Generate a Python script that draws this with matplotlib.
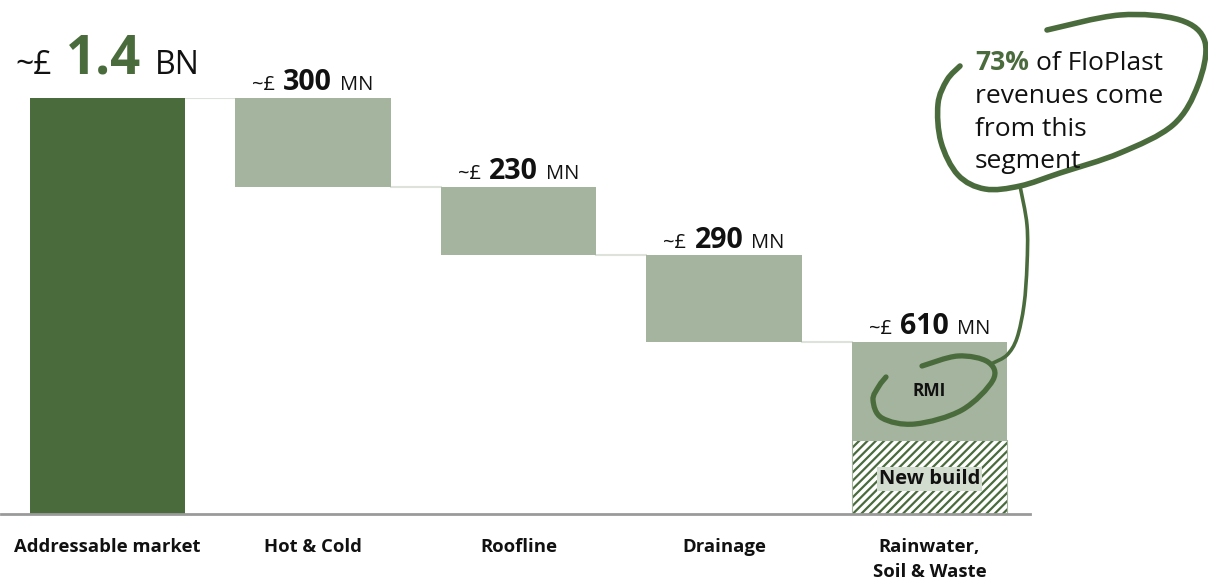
import numpy as np
import matplotlib.pyplot as plt
from matplotlib.path import Path
from matplotlib.patches import PathPatch

plt.rcParams['font.family'] = ['Open Sans', 'DejaVu Sans']
plt.rcParams['hatch.linewidth'] = 1.6

categories = ['Addressable market', 'Hot & Cold', 'Roofline', 'Drainage', 'Rainwater,\nSoil & Waste']
total = 1400          # addressable market, MN
steps = [300, 230, 290]   # segments carved off the total
new_build = 250
labels_num = ['1.4', '300', '230', '290', '610']
labels_unit = ['BN', 'MN', 'MN', 'MN', 'MN']

dark = '#4a6b3c'
light = '#a5b49f'
conn = '#dde3da'

fig = plt.figure(figsize=(12.08, 5.8), dpi=100)
ax = fig.add_axes([0, 66/580, 1030/1208, 416/580])
ax.set_xlim(-107.5/205.5, (1030-107.5)/205.5)
ax.set_ylim(0, total)
ax.axis('off')

w = 0.755
ax.bar(0, total, width=w, color=dark, zorder=2)

tops = [total]
for i, s in enumerate(steps):
    top = tops[-1]
    ax.bar(i + 1, s, bottom=top - s, width=w, color=light, zorder=2)
    tops.append(top - s)
rest = tops[-1]
rmi = rest - new_build
ax.bar(4, rmi, bottom=new_build, width=w, color=light, zorder=2)
ax.bar(4, new_build, width=w, color='white', edgecolor=dark, hatch='////', linewidth=0, zorder=2)
ax.bar(4, new_build, width=w, fill=False, edgecolor=light, linewidth=0.8, zorder=3)

# connectors between bars
for i in range(4):
    ax.plot([i + w/2, i + 1 - w/2], [tops[i], tops[i]], color=conn, lw=1.5, zorder=1)

# baseline
ax.plot([-0.52, 4.49], [0, 0], color='#9a9a9a', lw=2, clip_on=False, zorder=3)

# category labels
for i, c in enumerate(categories):
    ax.text(i, -80, c, ha='center', va='top', fontsize=13.3, fontweight='bold',
            color='#111111', linespacing=1.52)

# value labels: "~£" + bold number + unit, centred over the bar
fig.canvas.draw()
r = fig.canvas.get_renderer()
label_y = [1400 + 82, 1400 + 26, 1100 + 26, 870 + 26, rest + 26]
for i in range(5):
    if i == 0:
        s_side, s_num, col, gap = 23, 38, dark, 14
    else:
        s_side, s_num, col, gap = 14.5, 20.5, '#111111', 8
    y = label_y[i]
    kw = dict(xytext=(0, 0), textcoords='offset pixels', ha='left', va='baseline',
              annotation_clip=False)
    a = ax.annotate('~£', (i, y), fontsize=s_side, color='#111111', **kw)
    b = ax.annotate(labels_num[i], (i, y), fontsize=s_num, fontweight='bold', color=col, **kw)
    c = ax.annotate(labels_unit[i], (i, y), fontsize=s_side, color='#111111', **kw)
    wa = a.get_window_extent(r).width
    wb = b.get_window_extent(r).width
    wc = c.get_window_extent(r).width
    tw = wa + wb + wc + 2 * gap
    x0 = -tw / 2
    a.xyann = (x0, 0)
    b.xyann = (x0 + wa + gap, 0)
    c.xyann = (x0 + wa + gap + wb + gap, 0)

ax.text(4, new_build + rmi * 0.5, 'RMI', ha='center', va='center',
        fontsize=12.5, fontweight='bold', color='#111111', zorder=5)
ax.text(4, new_build * 0.47, 'New build', ha='center', va='center',
        fontsize=14.5, fontweight='bold', color='#111111', zorder=5,
        bbox=dict(boxstyle='square,pad=0.1', fc='#d3ddcf', ec='none'))

# hand drawn callout, in pixel coordinates over the whole figure
ov = fig.add_axes([0, 0, 1, 1])
ov.set_xlim(0, 1208)
ov.set_ylim(580, 0)
ov.axis('off')


def smooth(pts):
    pts = np.asarray(pts, float)
    verts = [pts[0]]
    codes = [Path.MOVETO]
    p = np.vstack([pts[0], pts, pts[-1]])
    for k in range(1, len(p) - 2):
        c1 = p[k] + (p[k + 1] - p[k - 1]) / 6
        c2 = p[k + 1] - (p[k + 2] - p[k]) / 6
        verts += [c1, c2, p[k + 1]]
        codes += [Path.CURVE4] * 3
    return Path(verts, codes)


big_loop = [(1047, 30), (1120, 15), (1180, 20), (1205, 42), (1198, 85), (1173, 125),
            (1120, 153), (1060, 173), (1020, 186), (985, 189), (958, 175),
            (941, 142), (938, 104), (947, 80), (960, 66)]
tail = [(1020, 186), (1027, 225), (1027, 265), (1024, 305), (1017, 338),
        (1007, 355), (993, 363)]
small_loop = [(922, 366), (958, 356), (988, 362), (993, 380), (962, 410),
              (915, 424), (882, 418), (873, 400), (879, 386), (886, 377)]
for pts, lw in [(big_loop, 4.0), (tail, 2.6), (small_loop, 3.8)]:
    ov.add_patch(PathPatch(smooth(pts), fc='none', ec=dark, lw=lw, capstyle='round'))

lines = ['revenues come', 'from this', 'segment']
t1 = ov.text(975, 70, '73%', fontsize=19, fontweight='bold', color=dark, va='baseline')
fig.canvas.draw()
w1 = t1.get_window_extent(r).width
ov.text(975 + w1 + 7, 70, 'of FloPlast', fontsize=19, color='#111111', va='baseline')
for k, ln in enumerate(lines):
    ov.text(975, 103 + 32.5 * k, ln, fontsize=19, color='#111111', va='baseline')

fig.savefig('out.png', dpi=100)
